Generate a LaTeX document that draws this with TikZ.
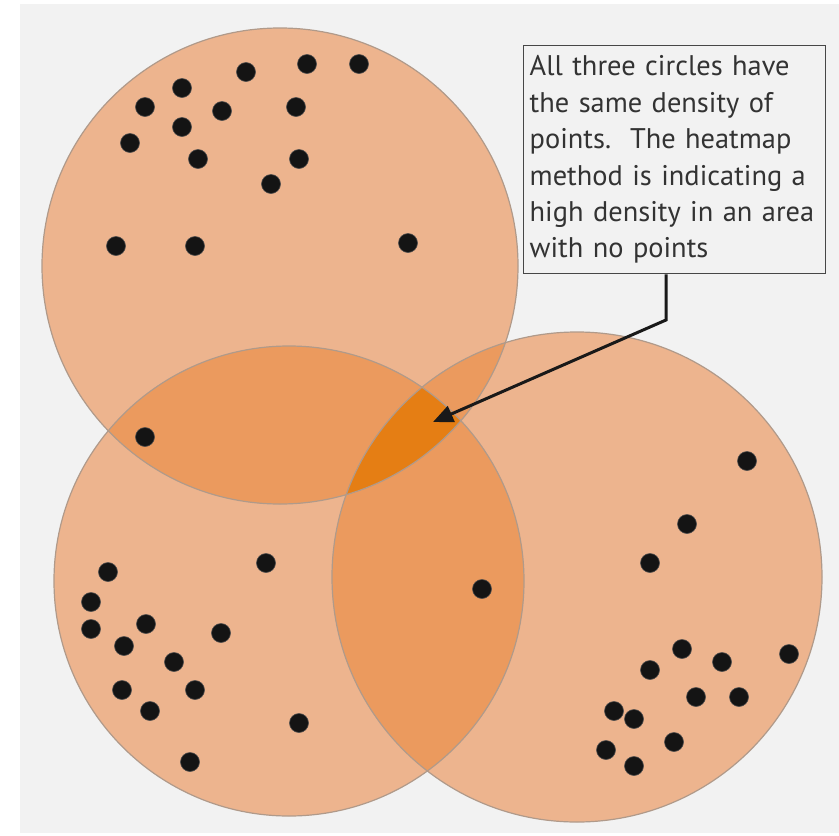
\documentclass[tikz,border=0pt]{standalone}
\usepackage{fontspec}
\setmainfont{PT Sans}
\usetikzlibrary{arrows.meta, positioning}

\definecolor{panelgray}{HTML}{F2F2F2}
\definecolor{peach}{HTML}{EDB48E}
\definecolor{peachdeep}{HTML}{EB9A5E}
\definecolor{hotorange}{HTML}{E57E14}
\definecolor{rimgray}{HTML}{B09A8A}
\definecolor{inkgray}{HTML}{333333}

\tikzset{
  pt/.style={fill=black!92, draw=black!70, line width=0.6pt},
  rim/.style={draw=rimgray, line width=1.2pt},
  notebox/.style={draw=inkgray!90, line width=1.4pt, fill=panelgray, text=inkgray,
    align=left, text width=290pt, inner xsep=6pt, inner ysep=10pt,
    font=\fontsize{28.4}{36.4}\selectfont}
}

\begin{document}
\begin{tikzpicture}[x=1pt, y=-1pt]
  \useasboundingbox (0,0) rectangle (839,836);
  % background panel
  \fill[white] (0,0) rectangle (839,836);
  \fill[panelgray] (20,4) rectangle (839,833);

  % circle centres
  \coordinate (top) at (280,266);
  \coordinate (left) at (289,581);
  \coordinate (right) at (577,577);
  \def\rtop{238}
  \def\rleft{235}
  \def\rright{245}

  % single layers
  \fill[peach] (top) circle (\rtop);
  \fill[peach] (left) circle (\rleft);
  \fill[peach] (right) circle (\rright);

  % pairwise overlaps
  \begin{scope}
    \clip (top) circle (\rtop);
    \fill[peachdeep] (left) circle (\rleft);
    \fill[peachdeep] (right) circle (\rright);
  \end{scope}
  \begin{scope}
    \clip (left) circle (\rleft);
    \fill[peachdeep] (right) circle (\rright);
  \end{scope}

  % all three
  \begin{scope}
    \clip (top) circle (\rtop);
    \clip (left) circle (\rleft);
    \fill[hotorange] (right) circle (\rright);
  \end{scope}

  % outlines
  \draw[rim] (top) circle (\rtop);
  \draw[rim] (left) circle (\rleft);
  \draw[rim] (right) circle (\rright);

  % points
  \foreach \x/\y in {246/72, 307/64, 359/64, 182/88, 145/107, 222/111, 296/107,
                     182/127, 130/143, 198/159, 299/159, 271/184, 116/246,
                     195/246, 408/243, 145/437}
    \filldraw[pt] (\x,\y) circle (9.5);
  \foreach \x/\y in {108/572, 91/602, 91/629, 146/624, 124/646, 221/633, 174/662,
                     122/690, 195/690, 150/711, 266/563, 299/723, 190/762, 482/589}
    \filldraw[pt] (\x,\y) circle (9.5);
  \foreach \x/\y in {747/461, 687/524, 650/563, 682/649, 722/662, 789/654, 650/670,
                     696/697, 739/697, 614/711, 634/719, 674/742, 606/750, 634/766}
    \filldraw[pt] (\x,\y) circle (9.5);

  % annotation
  \node[notebox, anchor=north west] (note) at (523,45)
    {All three circles have\\ the same density of\\ points.\ \ The heatmap\\
     method is indicating a\\ high density in an area\\ with no points};
  \coordinate (bend) at (666,320);
  \coordinate (hot) at (433,422);
  \draw[line width=3pt, black!90, -{Triangle[length=20pt, width=17pt]}]
    (note.south -| bend) -- (bend) -- (hot);
\end{tikzpicture}
\end{document}
